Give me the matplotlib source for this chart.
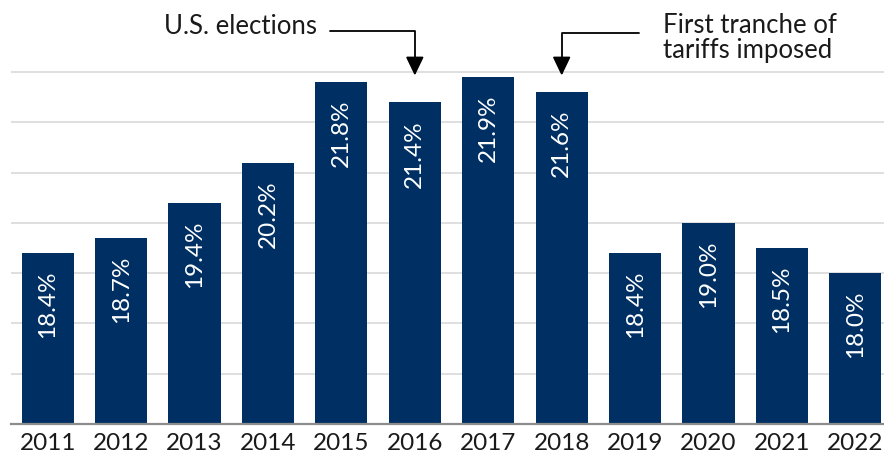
import matplotlib
matplotlib.use('Agg')
import matplotlib.pyplot as plt
import numpy as np

# data
years = ['2011', '2012', '2013', '2014', '2015', '2016',
         '2017', '2018', '2019', '2020', '2021', '2022']
shares = [18.4, 18.7, 19.4, 20.2, 21.8, 21.4, 21.9, 21.6, 18.4, 19.0, 18.5, 18.0]
events = [('2016', 'U.S. elections'), ('2018', 'First tranche of\ntariffs imposed')]

plt.rcParams['font.family'] = ['Lato', 'DejaVu Sans']

W, H = 884, 456
fig = plt.figure(figsize=(W / 100, H / 100), dpi=100)
ax = fig.add_axes([11 / W, 31 / H, (W - 11) / W, 362 / H])

x = np.arange(len(years))
navy = '#003063'
ax.bar(x, [v - 15 for v in shares], bottom=15, width=0.71, color=navy, zorder=3)

# value labels inside the bars
for xi, v in zip(x, shares):
    ax.annotate(f'{v:.1f}%', (xi, v), xytext=(0, -12), textcoords='offset points',
                rotation=90, ha='center', va='top', color='white', fontsize=17.5, zorder=4)

ax.set_ylim(15, 22.2)
ax.set_xlim(-0.5, 11.39)
ax.set_yticks(np.arange(16, 23, 1))
ax.yaxis.grid(True, color='#d9d9d9', linewidth=1.2, zorder=0)
ax.set_yticklabels([])
ax.tick_params(axis='y', length=0)
ax.tick_params(axis='x', length=0, pad=6, labelsize=17.5, labelcolor='#1a1a1a')
ax.set_xticks(x)
ax.set_xticklabels(years)
for s in ['top', 'right', 'left']:
    ax.spines[s].set_visible(False)
ax.spines['bottom'].set_color('#8c8c8c')
ax.spines['bottom'].set_linewidth(1.6)
ax.spines['bottom'].set_zorder(5)

# event call-outs
tip_y = 21.93
i1 = years.index(events[0][0])
ax.annotate('', xy=(i1, tip_y), xytext=(330, H - 32), textcoords='figure pixels',
            annotation_clip=False,
            arrowprops=dict(arrowstyle='-|>,head_length=1.15,head_width=0.55', color='black',
                            lw=1.3, shrinkA=0, shrinkB=0,
                            connectionstyle='angle,angleA=0,angleB=90,rad=0'))
fig.text(317 / W, (H - 27) / H, events[0][1], ha='right', va='center',
         fontsize=18.5, color='#1a1a1a')

i2 = years.index(events[1][0])
ax.annotate('', xy=(i2, tip_y), xytext=(639, H - 34), textcoords='figure pixels',
            annotation_clip=False,
            arrowprops=dict(arrowstyle='-|>,head_length=1.15,head_width=0.55', color='black',
                            lw=1.3, shrinkA=0, shrinkB=0,
                            connectionstyle='angle,angleA=0,angleB=90,rad=0'))
fig.text(663 / W, (H - 38) / H, events[1][1], ha='left', va='center',
         fontsize=18.5, color='#1a1a1a', linespacing=1.0)

fig.savefig('out.png', dpi=100)
